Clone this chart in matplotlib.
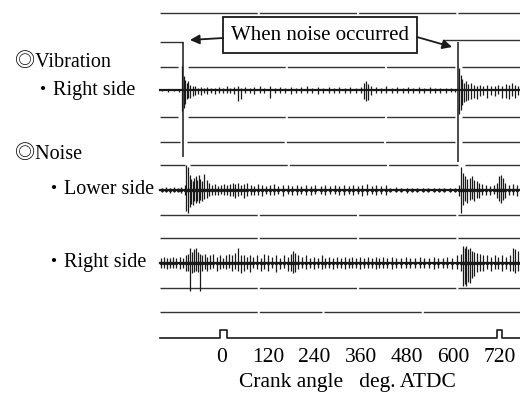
import matplotlib
matplotlib.use("Agg")
import matplotlib.pyplot as plt

# crank angle (deg ATDC) on x, y in chart divisions counted downward from the top
tick_angles = [0, 120, 240, 360, 480, 600, 720]
event_angles = [-101, 611]          # vertical markers "when noise occurred"
event_bottoms = [6.28, 6.48]
tdc_pulse_start = [-5, 712]
tdc_pulse_end = [13, 725]

# (angle, up, down) spikes
vib_ang = [-155, -140, -125, -112, -103, -99, -95, -91, -87, -82, -76, -70, -62, -54, -46, -38,
           -28, -18, -8, 2, 12, 22, 32, 41, 50, 60, 72, 84, 98, 110, 124, 138, 150, 164, 178,
           192, 206, 220, 234, 248, 262, 276, 290, 304, 318, 332, 346, 360, 368, 372, 377, 385,
           398, 412, 426, 440, 454, 468, 482, 496, 510, 524, 538, 552, 566, 580, 594, 604, 614,
           618, 622, 627, 632, 638, 645, 652, 660, 668, 676, 686, 696, 706, 716, 726, 736, 744,
           752, 760, 768]
vib_up = [.05, .04, .05, .06, .95, .55, .4, .3, .35, .2, .15, .15, .1, .12, .1, .12,
          .1, .1, .12, .1, .15, .1, .12, .15, .1, .12, .1, .12, .15, .1, .15, .1, .12, .1, .12,
          .1, .12, .15, .1, .12, .1, .12, .1, .12, .1, .12, .1, .12, .3, .35, .25, .15,
          .12, .1, .15, .1, .12, .1, .12, .1, .12, .1, .12, .1, .1, .08, .08, .06, .9,
          .6, .45, .3, .35, .25, .3, .2, .15, .2, .15, .2, .15, .15, .2, .15, .25, .2,
          .3, .2, .15]
vib_dn = [.05, .06, .05, .08, .85, .7, .55, .35, .3, .3, .25, .2, .15, .2, .1, .15,
          .12, .15, .1, .12, .12, .1, .15, .45, .35, .12, .1, .15, .12, .1, .3, .12, .1, .12, .15,
          .1, .1, .12, .1, .15, .12, .1, .1, .12, .1, .1, .12, .1, .35, .45, .4, .2,
          .1, .12, .12, .1, .1, .12, .1, .1, .12, .1, .1, .12, .1, .1, .08, .06, .95,
          .8, .6, .5, .45, .4, .35, .3, .35, .25, .2, .3, .2, .25, .15, .3, .3, .35,
          .25, .3, .2]

low_ang = [-155, -145, -135, -125, -115, -105, -96, -92, -88, -84, -80, -76, -72, -68, -64, -60,
           -56, -52, -46, -40, -34, -26, -18, -10, -2, 6, 14, 22, 28, 34, 42, 50, 58, 66, 74, 84,
           94, 104, 114, 124, 134, 146, 158, 170, 182, 194, 206, 218, 230, 242, 256, 268, 280,
           292, 304, 316, 328, 340, 352, 364, 376, 388, 400, 412, 424, 436, 450, 464, 478, 492,
           506, 520, 534, 548, 562, 576, 590, 604, 614, 620, 624, 630, 636, 642, 648, 654, 660,
           666, 674, 684, 694, 704, 712, 718, 722, 728, 734, 744, 754, 764]
low_up = [.1, .12, .1, .12, .1, .12, .2, 1.0, .9, .6, .45, .35, .5, .55, .4, .6,
          .45, .35, .65, .4, .3, .2, .25, .15, .2, .25, .2, .25, .3, .25, .3, .2, .25, .3, .2, .15,
          .25, .2, .15, .2, .25, .15, .2, .2, .15, .2, .15, .2, .15, .2, .15, .2, .15,
          .2, .15, .2, .15, .2, .15, .2, .25, .15, .2, .15, .2, .1, .12, .1, .1, .1,
          .1, .08, .08, .08, .1, .08, .08, .1, .2, .9, .7, .55, .45, .5, .55, .4, .35,
          .3, .25, .2, .15, .2, .3, .55, .6, .5, .3, .2, .25, .2]
low_dn = [.1, .1, .12, .1, .1, .12, .2, .85, .9, .7, .55, .6, .45, .5, .45, .5,
          .4, .45, .35, .3, .25, .2, .2, .2, .15, .2, .2, .25, .25, .3, .25, .2, .3, .25, .2, .2,
          .2, .25, .15, .2, .2, .15, .25, .15, .2, .2, .15, .2, .2, .15, .15, .2, .15,
          .15, .2, .2, .15, .2, .15, .25, .2, .15, .2, .15, .2, .1, .1, .1, .12, .1,
          .1, .1, .08, .08, .08, .08, .08, .1, .25, .9, .6, .45, .5, .4, .35, .45, .3,
          .3, .2, .2, .2, .15, .3, .45, .5, .4, .3, .2, .2, .25]

rgt_ang = [-158, -150, -142, -134, -126, -118, -110, -102, -94, -87, -83, -78, -73, -68, -63, -57,
           -51, -45, -38, -30, -22, -14, -6, 2, 10, 18, 26, 34, 41, 48, 56, 64, 72, 80, 90, 100,
           110, 120, 130, 140, 150, 160, 170, 178, 184, 190, 198, 208, 218, 228, 238, 248, 258,
           268, 278, 288, 298, 308, 318, 328, 338, 348, 358, 368, 378, 388, 398, 408, 418, 428,
           440, 452, 464, 476, 488, 500, 512, 524, 536, 548, 560, 572, 584, 596, 608, 618, 625,
           629, 633, 637, 642, 648, 654, 660, 668, 676, 686, 696, 706, 716, 726, 736, 746, 755,
           760, 766]
rgt_up = [.2, .25, .2, .2, .25, .2, .25, .2, .3, .35, .6, .45, .55, .6, .45, .35,
          .3, .35, .25, .3, .35, .25, .3, .2, .3, .35, .3, .4, .6, .3, .3, .25, .3, .25, .3, .2,
          .35, .3, .25, .3, .2, .3, .25, .35, .5, .4, .3, .25, .3, .2, .25, .2, .3,
          .2, .25, .2, .25, .2, .25, .2, .25, .2, .25, .2, .25, .2, .25, .2, .25, .2,
          .25, .2, .2, .25, .2, .2, .25, .2, .2, .25, .2, .2, .25, .2, .3, .35, .7,
          .6, .7, .55, .6, .5, .45, .4, .35, .3, .3, .25, .3, .25, .3, .25, .3, .6,
          .55, .5]
rgt_dn = [.2, .2, .25, .2, .2, .2, .25, .2, .3, .3, 1.1, .4, .35, .3, .35, 1.1,
          .3, .25, .3, .25, .2, .3, .25, .2, .25, .2, .3, .25, .3, .4, .3, .25, .35, .2, .25, .3,
          .25, .3, .2, .35, .25, .2, .3, .3, .4, .35, .25, .2, .25, .2, .25, .2, .25,
          .2, .2, .25, .2, .2, .25, .2, .2, .2, .25, .2, .2, .2, .25, .2, .2, .2,
          .25, .2, .2, .2, .2, .2, .2, .2, .2, .25, .2, .2, .2, .25, .25, .3, .9,
          .85, .9, .75, .8, .6, .5, .35, .3, .3, .25, .3, .25, .25, .3, .25, .3, .3,
          .4, .3]

trace_names = ["・Right side", "・Lower side", "・Right side"]
trace_base = [3.6, 7.6, 10.52]
group_names = ["◎Vibration", "◎Noise"]
group_y = [2.52, 6.2]

# horizontal reference lines of the recorder: level -> segments (deg)
ref_levels = [0.52, 1.60, 1.68, 2.68, 4.68, 5.68, 6.6, 8.6, 9.52, 11.52, 12.48]
ref_segments = [
    [(-161, 772)],
    [(572, 772)],
    [(-161, -101)],
    [(-161, -115), (-88, 603), (622, 772)],
    [(-161, -115), (-88, 603), (622, 772)],
    [(-161, -108), (-90, 603), (622, 772)],
    [(-161, -95), (-83, 611), (630, 772)],
    [(-161, 772)],
    [(-161, 772)],
    [(-161, 772)],
    [(-161, 260), (265, 772)],
]
tdc_base = 13.52
tdc_height = 0.32

serif = ["Liberation Serif", "Noto Sans CJK JP", "DejaVu Sans"]
ink = "#1a1a1a"

fig = plt.figure(figsize=(5.2, 3.99), dpi=100)
ax = fig.add_axes([0, 0, 1, 1])
ax.set_xlim(-575, 772)
ax.set_ylim(15.96, 0)
ax.axis("off")

for lvl, segs in zip(ref_levels, ref_segments):
    for a0, a1 in segs:
        ax.plot([a0, a1], [lvl, lvl], color="#333333", lw=1.0,
                dashes=(70, 1.5), solid_capstyle="butt")

# traces
for base, ang, up, dn, dots in [(trace_base[0], vib_ang, vib_up, vib_dn, False),
                                (trace_base[1], low_ang, low_up, low_dn, True),
                                (trace_base[2], rgt_ang, rgt_up, rgt_dn, True)]:
    ax.plot([-161, 772], [base, base], color=ink, lw=1.6)
    ax.vlines(ang, [base - u for u in up], [base + d for d in dn], color=ink, lw=0.9)
    if dots:
        ax.plot(ang, [base] * len(ang), "o", ms=2.6, color=ink, mec="none")

# event markers
ax.vlines(event_angles, 1.68, event_bottoms, color=ink, lw=1.1)

# TDC pulses
xs, ys = [-161], [tdc_base]
for s, e in zip(tdc_pulse_start, tdc_pulse_end):
    xs += [s, s, e, e]
    ys += [tdc_base, tdc_base - tdc_height, tdc_base - tdc_height, tdc_base]
xs.append(772)
ys.append(tdc_base)
ax.plot(xs, ys, color=ink, lw=1.2)

# annotation
ax.text(254, 1.4, "When noise occurred", family=serif, fontsize=15, ha="center", va="center",
        bbox=dict(boxstyle="square,pad=0.4", fc="white", ec=ink, lw=1.3))
ax.annotate("", xy=(-83, 1.6), xytext=(3, 1.52),
            arrowprops=dict(arrowstyle="-|>", color=ink, lw=1.3, mutation_scale=14,
                            shrinkA=0, shrinkB=0))
ax.annotate("", xy=(596, 1.88), xytext=(505, 1.48),
            arrowprops=dict(arrowstyle="-|>", color=ink, lw=1.3, mutation_scale=14,
                            shrinkA=0, shrinkB=0))

# left labels
for name, y in zip(group_names, group_y):
    ax.text(-536, y, name, family=serif, fontsize=14.5, ha="left", va="center")
ax.text(-490, trace_base[0], trace_names[0], family=serif, fontsize=14.5, ha="left", va="center")
ax.text(-462, trace_base[1], trace_names[1], family=serif, fontsize=14.5, ha="left", va="center")
ax.text(-462, trace_base[2], trace_names[2], family=serif, fontsize=14.5, ha="left", va="center")

# x axis labels
for t in tick_angles:
    ax.text(t, 14.28, str(t), family=serif, fontsize=15.5, ha="center", va="center")
ax.text(326, 15.32, "Crank angle   deg. ATDC", family=serif, fontsize=15.5, ha="center", va="center")

fig.savefig("out.png", dpi=100)
